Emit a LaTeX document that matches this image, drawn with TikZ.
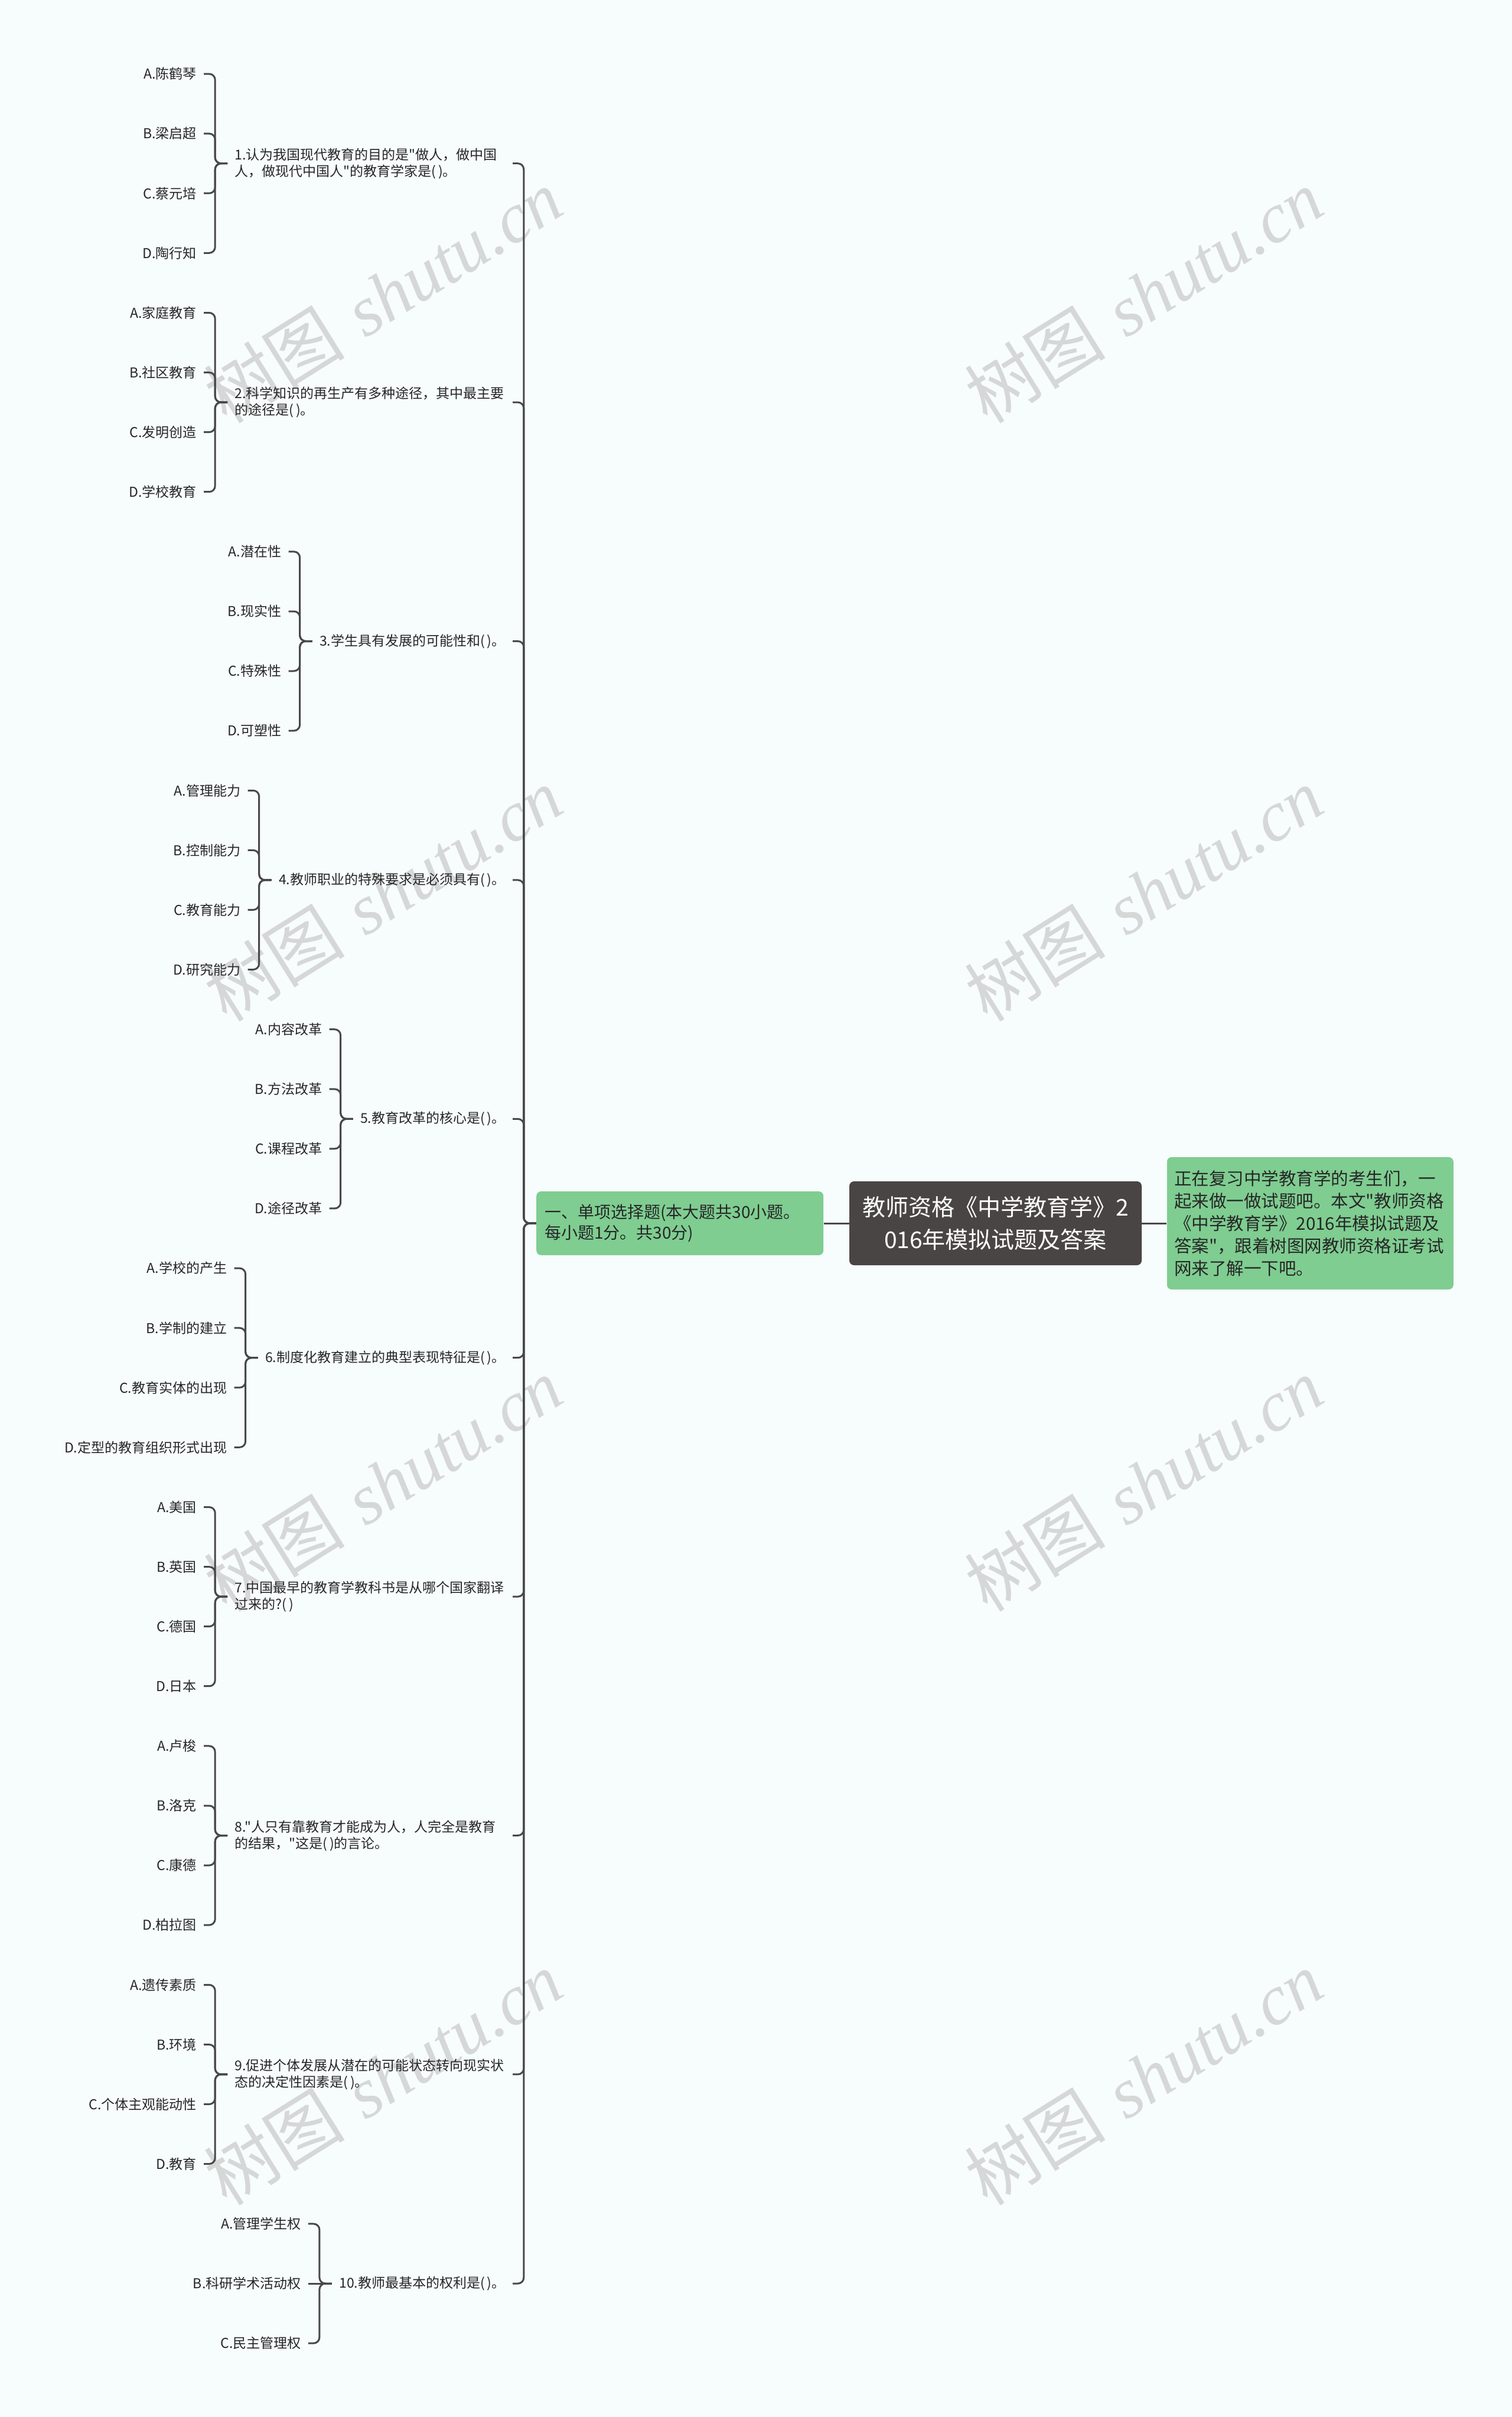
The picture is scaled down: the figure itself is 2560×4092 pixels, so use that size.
\documentclass[tikz,border=0pt]{standalone}
\usepackage{fontspec}
\newfontfamily\cjk{Noto Sans CJK SC}
\newfontfamily\wmserif{Liberation Serif}
\usetikzlibrary{positioning,calc}
\definecolor{linegray}{HTML}{484848}
\definecolor{rootfill}{HTML}{4A4545}
\definecolor{leafgreen}{HTML}{7FCD91}
\definecolor{inkdark}{HTML}{262626}
\definecolor{paper}{HTML}{F7FCFC}
\definecolor{wmgray}{HTML}{D6D8D8}
\tikzset{
  rootbox/.style={rectangle, rounded corners=4pt, fill=rootfill, text=white, font=\cjk\fontsize{19.5}{27.5}\selectfont, align=center, text width=228pt, minimum width=247.5pt, minimum height=71pt, inner xsep=9.75pt, inner ysep=0pt},
  secbox/.style={rectangle, rounded corners=4pt, fill=leafgreen, text=inkdark, font=\cjk\fontsize{14}{17.5}\selectfont, align=left, text width=229pt, minimum height=54pt, inner xsep=7pt, inner ysep=0pt},
  descbox/.style={rectangle, rounded corners=4pt, fill=leafgreen, text=inkdark, font=\cjk\fontsize{14.75}{19}\selectfont, align=left, text width=230pt, minimum height=112pt, inner xsep=6.25pt, inner ysep=0pt},
  question/.style={anchor=east, text=inkdark, font=\cjk\fontsize{11.5}{14}\selectfont, align=left, inner xsep=6pt, inner ysep=2pt},
  longquestion/.style={question, text width=229pt},
  choice/.style={anchor=east, text=inkdark, font=\cjk\fontsize{11.5}{14}\selectfont, inner xsep=6pt, inner ysep=2pt},
  link/.style={draw=linegray, line width=1.5pt, rounded corners=5pt},
  watermark/.style={text=wmgray, rotate=32, font=\fontsize{60}{60}\selectfont}
}
\begin{document}
\begin{tikzpicture}[x=0.5pt, y=-0.5pt]
  \useasboundingbox (0,0) rectangle (2560,4092);
  \fill[paper] (0,0) rectangle (2560,4092);

  % watermarks
  \node[watermark] (wm1) at (648,501) {{\cjk 树图} {\wmserif\itshape shutu.cn}};
  \node[watermark] (wm2) at (1936,501) {{\cjk 树图} {\wmserif\itshape shutu.cn}};
  \node[watermark] (wm3) at (648,1514) {{\cjk 树图} {\wmserif\itshape shutu.cn}};
  \node[watermark] (wm4) at (1936,1514) {{\cjk 树图} {\wmserif\itshape shutu.cn}};
  \node[watermark] (wm5) at (648,2513) {{\cjk 树图} {\wmserif\itshape shutu.cn}};
  \node[watermark] (wm6) at (1936,2513) {{\cjk 树图} {\wmserif\itshape shutu.cn}};
  \node[watermark] (wm7) at (648,3518) {{\cjk 树图} {\wmserif\itshape shutu.cn}};
  \node[watermark] (wm8) at (1936,3518) {{\cjk 树图} {\wmserif\itshape shutu.cn}};

  % centre
  \node[rootbox] (root) at (1685.5,2071) {教师资格《中学教育学》2\\016年模拟试题及答案};
  \node[secbox, left=21.5pt of root] (sec) {一、单项选择题(本大题共30小题。\\每小题1分。共30分)};
  \node[descbox, right=21pt of root] (desc) {正在复习中学教育学的考生们，一\\起来做一做试题吧。本文"教师资格\\《中学教育学》2016年模拟试题及\\答案"，跟着树图网教师资格证考试\\网来了解一下吧。};
  \draw[link] (root.west) -- (sec.east); \draw[link] (root.east) -- (desc.west);

  % questions
  \node[longquestion] (q1) at (868,276.7) {1.认为我国现代教育的目的是"做人，做中国\\人，做现代中国人"的教育学家是(\,)。};
  \node[longquestion] (q2) at (868,681.1) {2.科学知识的再生产有多种途径，其中最主要\\的途径是(\,)。};
  \node[question] (q3) at (868,1085.5) {3.学生具有发展的可能性和(\,)。};
  \node[question] (q4) at (868,1489.9) {4.教师职业的特殊要求是必须具有(\,)。};
  \node[question] (q5) at (868,1894.3) {5.教育改革的核心是(\,)。};
  \node[question] (q6) at (868,2298.7) {6.制度化教育建立的典型表现特征是(\,)。};
  \node[longquestion] (q7) at (868,2703.1) {7.中国最早的教育学教科书是从哪个国家翻译\\过来的?(\,)};
  \node[longquestion] (q8) at (868,3107.5) {8."人只有靠教育才能成为人，人完全是教育\\的结果，"这是(\,)的言论。};
  \node[longquestion] (q9) at (868,3511.9) {9.促进个体发展从潜在的可能状态转向现实状\\态的决定性因素是(\,)。};
  \node[question] (q10) at (868,3866) {10.教师最基本的权利是(\,)。};
  \draw[link] (sec.west) -- ++(-21,0) |- (q1.east); \draw[link] (sec.west) -- ++(-21,0) |- (q2.east);
  \draw[link] (sec.west) -- ++(-21,0) |- (q3.east); \draw[link] (sec.west) -- ++(-21,0) |- (q4.east);
  \draw[link] (sec.west) -- ++(-21,0) |- (q5.east); \draw[link] (sec.west) -- ++(-21,0) |- (q6.east);
  \draw[link] (sec.west) -- ++(-21,0) |- (q7.east); \draw[link] (sec.west) -- ++(-21,0) |- (q8.east);
  \draw[link] (sec.west) -- ++(-21,0) |- (q9.east); \draw[link] (sec.west) -- ++(-21,0) |- (q10.east);

  % choices
  \node[choice] (q1a) at ($(q1.west)+(-40,-151.6)$) {A.陈鹤琴};
  \node[choice] (q1b) at ($(q1.west)+(-40,-50.5)$) {B.梁启超};
  \node[choice] (q1c) at ($(q1.west)+(-40,50.5)$) {C.蔡元培};
  \node[choice] (q1d) at ($(q1.west)+(-40,151.6)$) {D.陶行知};
  \draw[link] (q1.west) -- ++(-21,0) |- (q1a.east); \draw[link] (q1.west) -- ++(-21,0) |- (q1b.east);
  \draw[link] (q1.west) -- ++(-21,0) |- (q1c.east); \draw[link] (q1.west) -- ++(-21,0) |- (q1d.east);

  \node[choice] (q2a) at ($(q2.west)+(-40,-151.6)$) {A.家庭教育};
  \node[choice] (q2b) at ($(q2.west)+(-40,-50.5)$) {B.社区教育};
  \node[choice] (q2c) at ($(q2.west)+(-40,50.5)$) {C.发明创造};
  \node[choice] (q2d) at ($(q2.west)+(-40,151.6)$) {D.学校教育};
  \draw[link] (q2.west) -- ++(-21,0) |- (q2a.east); \draw[link] (q2.west) -- ++(-21,0) |- (q2b.east);
  \draw[link] (q2.west) -- ++(-21,0) |- (q2c.east); \draw[link] (q2.west) -- ++(-21,0) |- (q2d.east);

  \node[choice] (q3a) at ($(q3.west)+(-40,-151.6)$) {A.潜在性};
  \node[choice] (q3b) at ($(q3.west)+(-40,-50.5)$) {B.现实性};
  \node[choice] (q3c) at ($(q3.west)+(-40,50.5)$) {C.特殊性};
  \node[choice] (q3d) at ($(q3.west)+(-40,151.6)$) {D.可塑性};
  \draw[link] (q3.west) -- ++(-21,0) |- (q3a.east); \draw[link] (q3.west) -- ++(-21,0) |- (q3b.east);
  \draw[link] (q3.west) -- ++(-21,0) |- (q3c.east); \draw[link] (q3.west) -- ++(-21,0) |- (q3d.east);

  \node[choice] (q4a) at ($(q4.west)+(-40,-151.6)$) {A.管理能力};
  \node[choice] (q4b) at ($(q4.west)+(-40,-50.5)$) {B.控制能力};
  \node[choice] (q4c) at ($(q4.west)+(-40,50.5)$) {C.教育能力};
  \node[choice] (q4d) at ($(q4.west)+(-40,151.6)$) {D.研究能力};
  \draw[link] (q4.west) -- ++(-21,0) |- (q4a.east); \draw[link] (q4.west) -- ++(-21,0) |- (q4b.east);
  \draw[link] (q4.west) -- ++(-21,0) |- (q4c.east); \draw[link] (q4.west) -- ++(-21,0) |- (q4d.east);

  \node[choice] (q5a) at ($(q5.west)+(-40,-151.6)$) {A.内容改革};
  \node[choice] (q5b) at ($(q5.west)+(-40,-50.5)$) {B.方法改革};
  \node[choice] (q5c) at ($(q5.west)+(-40,50.5)$) {C.课程改革};
  \node[choice] (q5d) at ($(q5.west)+(-40,151.6)$) {D.途径改革};
  \draw[link] (q5.west) -- ++(-21,0) |- (q5a.east); \draw[link] (q5.west) -- ++(-21,0) |- (q5b.east);
  \draw[link] (q5.west) -- ++(-21,0) |- (q5c.east); \draw[link] (q5.west) -- ++(-21,0) |- (q5d.east);

  \node[choice] (q6a) at ($(q6.west)+(-40,-151.6)$) {A.学校的产生};
  \node[choice] (q6b) at ($(q6.west)+(-40,-50.5)$) {B.学制的建立};
  \node[choice] (q6c) at ($(q6.west)+(-40,50.5)$) {C.教育实体的出现};
  \node[choice] (q6d) at ($(q6.west)+(-40,151.6)$) {D.定型的教育组织形式出现};
  \draw[link] (q6.west) -- ++(-21,0) |- (q6a.east); \draw[link] (q6.west) -- ++(-21,0) |- (q6b.east);
  \draw[link] (q6.west) -- ++(-21,0) |- (q6c.east); \draw[link] (q6.west) -- ++(-21,0) |- (q6d.east);

  \node[choice] (q7a) at ($(q7.west)+(-40,-151.6)$) {A.美国};
  \node[choice] (q7b) at ($(q7.west)+(-40,-50.5)$) {B.英国};
  \node[choice] (q7c) at ($(q7.west)+(-40,50.5)$) {C.德国};
  \node[choice] (q7d) at ($(q7.west)+(-40,151.6)$) {D.日本};
  \draw[link] (q7.west) -- ++(-21,0) |- (q7a.east); \draw[link] (q7.west) -- ++(-21,0) |- (q7b.east);
  \draw[link] (q7.west) -- ++(-21,0) |- (q7c.east); \draw[link] (q7.west) -- ++(-21,0) |- (q7d.east);

  \node[choice] (q8a) at ($(q8.west)+(-40,-151.6)$) {A.卢梭};
  \node[choice] (q8b) at ($(q8.west)+(-40,-50.5)$) {B.洛克};
  \node[choice] (q8c) at ($(q8.west)+(-40,50.5)$) {C.康德};
  \node[choice] (q8d) at ($(q8.west)+(-40,151.6)$) {D.柏拉图};
  \draw[link] (q8.west) -- ++(-21,0) |- (q8a.east); \draw[link] (q8.west) -- ++(-21,0) |- (q8b.east);
  \draw[link] (q8.west) -- ++(-21,0) |- (q8c.east); \draw[link] (q8.west) -- ++(-21,0) |- (q8d.east);

  \node[choice] (q9a) at ($(q9.west)+(-40,-151.6)$) {A.遗传素质};
  \node[choice] (q9b) at ($(q9.west)+(-40,-50.5)$) {B.环境};
  \node[choice] (q9c) at ($(q9.west)+(-40,50.5)$) {C.个体主观能动性};
  \node[choice] (q9d) at ($(q9.west)+(-40,151.6)$) {D.教育};
  \draw[link] (q9.west) -- ++(-21,0) |- (q9a.east); \draw[link] (q9.west) -- ++(-21,0) |- (q9b.east);
  \draw[link] (q9.west) -- ++(-21,0) |- (q9c.east); \draw[link] (q9.west) -- ++(-21,0) |- (q9d.east);

  \node[choice] (q10a) at ($(q10.west)+(-40,-101.1)$) {A.管理学生权};
  \node[choice] (q10b) at ($(q10.west)+(-40,0)$) {B.科研学术活动权};
  \node[choice] (q10c) at ($(q10.west)+(-40,101.1)$) {C.民主管理权};
  \draw[link] (q10.west) -- ++(-21,0) |- (q10a.east); \draw[link] (q10.west) -- (q10b.east);
  \draw[link] (q10.west) -- ++(-21,0) |- (q10c.east);
\end{tikzpicture}
\end{document}
